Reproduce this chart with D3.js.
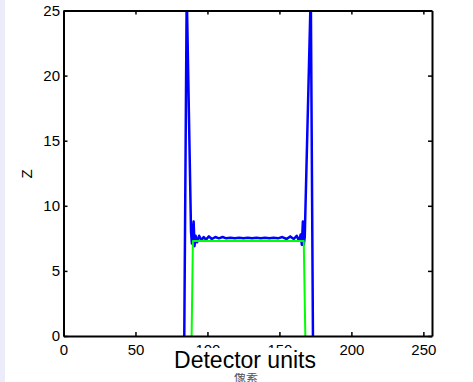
<!DOCTYPE html>
<html>
<head>
<meta charset="utf-8">
<script src="https://cdn.jsdelivr.net/npm/d3@7"></script>
<style>
  html, body { margin: 0; padding: 0; background: #fff; }
  svg { display: block; }
</style>
</head>
<body>
<svg id="chart"></svg>
<script>
// detector positions and Z values
const blueX = [83.9, 85.6, 88.6, 89.2, 90.4, 91.0, 91.8, 92.8, 94.2, 95.8, 97.4, 99.0, 101, 103, 105.5,
  108, 110.5, 113, 116, 119, 122, 125, 128, 131, 134, 137, 140, 143, 146, 149, 152, 155, 157.5, 160,
  162, 163.6, 164.8, 165.6, 166.3, 166.9, 167.6, 171.8, 173.3];
const blueZ = [0, 26.5, 8.0, 7.1, 8.8, 6.9, 7.7, 7.2, 7.7, 7.35, 7.6, 7.4, 7.65, 7.45, 7.6,
  7.5, 7.6, 7.5, 7.55, 7.5, 7.55, 7.5, 7.55, 7.5, 7.55, 7.5, 7.55, 7.5, 7.55, 7.5, 7.6, 7.45, 7.65, 7.45,
  7.7, 7.3, 7.8, 7.0, 8.8, 7.0, 7.6, 26.5, 0];
const greenX = [89.0, 89.9, 166.9, 168.0];
const greenZ = [0, 7.3, 7.3, 0];

const xTicks = [0, 50, 100, 150, 200, 250];
const yTicks = [0, 5, 10, 15, 20, 25];

const W = 473, H = 382;
const margin = { top: 10.5, right: 41, bottom: 46, left: 63.5 };
const width = W - margin.left - margin.right;
const height = H - margin.top - margin.bottom;

const svg = d3.select("#chart").attr("width", W).attr("height", H);

// light strip at the left edge
svg.append("rect").attr("x", 0).attr("y", 0).attr("width", 5).attr("height", H).attr("fill", "#ebebfa");

const g = svg.append("g").attr("transform", `translate(${margin.left},${margin.top})`);

const xScale = d3.scaleLinear().domain([0, 256]).range([0, width]);
const yScale = d3.scaleLinear().domain([0, 25]).range([height, 0]);

g.append("defs").append("clipPath").attr("id", "plotClip")
  .append("rect").attr("width", width).attr("height", height);

const line = d3.line()
  .x(d => xScale(d[0]))
  .y(d => yScale(d[1]));

const plot = g.append("g").attr("clip-path", "url(#plotClip)");

plot.append("path")
  .datum(d3.zip(blueX, blueZ))
  .attr("fill", "none")
  .attr("stroke", "#0000ff")
  .attr("stroke-width", 2.5)
  .attr("stroke-linejoin", "round")
  .attr("d", line);

plot.append("path")
  .datum(d3.zip(greenX, greenZ))
  .attr("fill", "none")
  .attr("stroke", "#00ff00")
  .attr("stroke-width", 2)
  .attr("stroke-linejoin", "round")
  .attr("d", line);

// axes, ticks pointing inward
const font = "'Liberation Sans', Arial, sans-serif";

function styleAxis(sel) {
  sel.select(".domain").attr("stroke", "#000").attr("stroke-width", 2);
  sel.selectAll(".tick line").attr("stroke", "#000").attr("stroke-width", 1.5);
  sel.selectAll(".tick text").attr("fill", "#000").style("font-family", font).style("font-size", "15px");
}

g.append("g")
  .attr("transform", `translate(0,${height})`)
  .call(d3.axisBottom(xScale).tickValues(xTicks).tickSizeInner(-4).tickSizeOuter(0).tickPadding(8))
  .call(styleAxis);

g.append("g")
  .call(d3.axisTop(xScale).tickValues(xTicks).tickSizeInner(-4).tickSizeOuter(0).tickFormat(""))
  .call(styleAxis);

g.append("g")
  .call(d3.axisLeft(yScale).tickValues(yTicks).tickSizeInner(-4).tickSizeOuter(0).tickPadding(3.5))
  .call(styleAxis);

g.append("g")
  .attr("transform", `translate(${width},0)`)
  .call(d3.axisRight(yScale).tickValues(yTicks).tickSizeInner(-4).tickSizeOuter(0).tickFormat(""))
  .call(styleAxis);

// y label
svg.append("text")
  .attr("transform", "translate(32,174) rotate(-90)")
  .attr("text-anchor", "middle")
  .style("font-family", font)
  .style("font-size", "15px")
  .text("Z");

// small caption under the x label, partly hidden like in the source
svg.append("text")
  .attr("x", 246).attr("y", 382)
  .attr("text-anchor", "middle")
  .attr("fill", "#555")
  .style("font-family", "'Noto Sans CJK SC', sans-serif")
  .style("font-size", "12px")
  .text("像素");

// x label on a white box covering part of the tick labels
svg.append("rect").attr("x", 168).attr("y", 348).attr("width", 154).attr("height", 25).attr("fill", "#fff");
svg.append("text")
  .attr("x", 245).attr("y", 368)
  .attr("text-anchor", "middle")
  .style("font-family", font)
  .style("font-size", "23px")
  .text("Detector units");
</script>
</body>
</html>
